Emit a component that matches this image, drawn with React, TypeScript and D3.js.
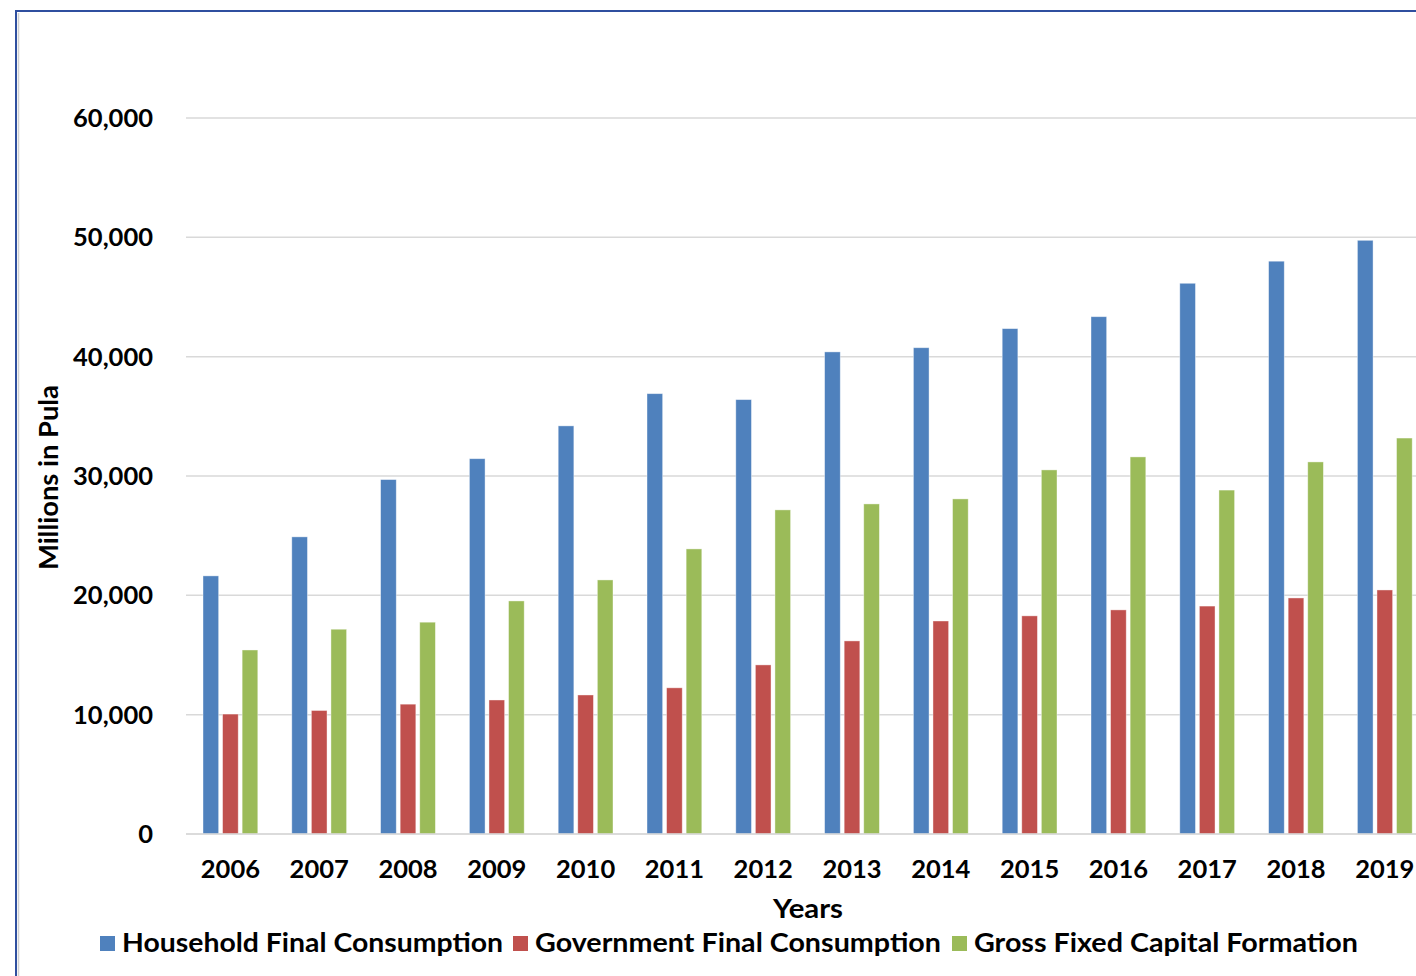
import React from "react";
import * as d3 from "d3";

const years = ["2006","2007","2008","2009","2010","2011","2012","2013","2014","2015","2016","2017","2018","2019"];
const household = [21630, 24900, 29700, 31450, 34200, 36900, 36400, 40400, 40750, 42350, 43350, 46150, 48000, 49750];
const government = [10050, 10350, 10880, 11230, 11650, 12250, 14170, 16180, 17850, 18280, 18780, 19100, 19780, 20450];
const grossFixed = [15420, 17160, 17750, 19530, 21290, 23890, 27160, 27660, 28080, 30510, 31600, 28820, 31180, 33180];
const yTicks = [0, 10000, 20000, 30000, 40000, 50000, 60000];
const seriesNames = ["Household Final Consumption", "Government Final Consumption", "Gross Fixed Capital Formation"];
const seriesColors = ["#4f81bd", "#c0504d", "#9bbb59"];

const W = 1416, H = 976;
const FONT = "Lato, 'DejaVu Sans', sans-serif";

export default function App() {
  const seriesValues = [household, government, grossFixed];
  const step = 88.8;
  const x0 = d3.scaleBand<string>().domain(years).range([186, 186 + step * years.length]).padding(0);
  const x1 = d3.scaleBand<string>().domain(seriesNames).range([17, step - 17]).paddingInner(0.2);
  const y = d3.scaleLinear().domain([0, 60000]).range([834, 118]);
  const fmt = d3.format(",");
  const legendX = [100, 513, 952];
  const legendLen = [381, 406, 384];

  return (
    <svg width={W} height={H} style={{ position: "absolute", left: 0, top: 0, background: "#fff" }}>
      <rect x={0} y={0} width={W} height={H} fill="#fff" />
      {/* frame */}
      <line x1={18.5} y1={13} x2={18.5} y2={H} stroke="#d0d0d0" strokeWidth={1.5} />
      <line x1={16} y1={11} x2={16} y2={H} stroke="#2f4f9f" strokeWidth={2} />
      <line x1={15} y1={11} x2={W} y2={11} stroke="#2f4f9f" strokeWidth={2} />
      {/* grid */}
      {yTicks.map((t) => (
        <g key={t}>
          <line x1={186} x2={W} y1={y(t)} y2={y(t)} stroke="#d9d9d9" strokeWidth={1.5} />
          <text x={153} y={y(t)} dy="0.35em" textAnchor="end" fontFamily={FONT} fontWeight={700} fontSize={25.5} fill="#000">
            {fmt(t)}
          </text>
        </g>
      ))}
      {/* bars */}
      {years.map((yr, i) => (
        <g key={yr} transform={`translate(${x0(yr)},0)`}>
          {seriesNames.map((s, k) => {
            const v = seriesValues[k][i];
            return (
              <rect key={s} x={x1(s)} y={y(v)} width={x1.bandwidth()} height={y(0) - y(v)}
                fill={seriesColors[k]} stroke="#ffffff" strokeOpacity={0.5} strokeWidth={0.8} />
            );
          })}
          <text x={step / 2} y={878} textAnchor="middle" fontFamily={FONT} fontWeight={700} fontSize={25.5} fill="#000">
            {yr}
          </text>
        </g>
      ))}
      <line x1={186} x2={W} y1={y(0)} y2={y(0)} stroke="#d9d9d9" strokeWidth={1.5} />
      {/* axis titles */}
      <text x={773} y={918} textLength={70} lengthAdjust="spacingAndGlyphs" fontFamily={FONT} fontWeight={700} fontSize={26} fill="#000">Years</text>
      <text transform={`translate(58,570) rotate(-90)`} textLength={185} lengthAdjust="spacingAndGlyphs" fontFamily={FONT} fontWeight={700} fontSize={26} fill="#000">Millions in Pula</text>
      {/* legend */}
      {seriesNames.map((s, k) => {
        const xs = legendX[k];
        return (
          <g key={s}>
            <rect x={xs} y={936} width={15} height={15} fill={seriesColors[k]} />
            <text x={xs + 22} y={952} textLength={legendLen[k]} lengthAdjust="spacingAndGlyphs" fontFamily={FONT} fontWeight={700} fontSize={26} fill="#000">{s}</text>
          </g>
        );
      })}
    </svg>
  );
}
